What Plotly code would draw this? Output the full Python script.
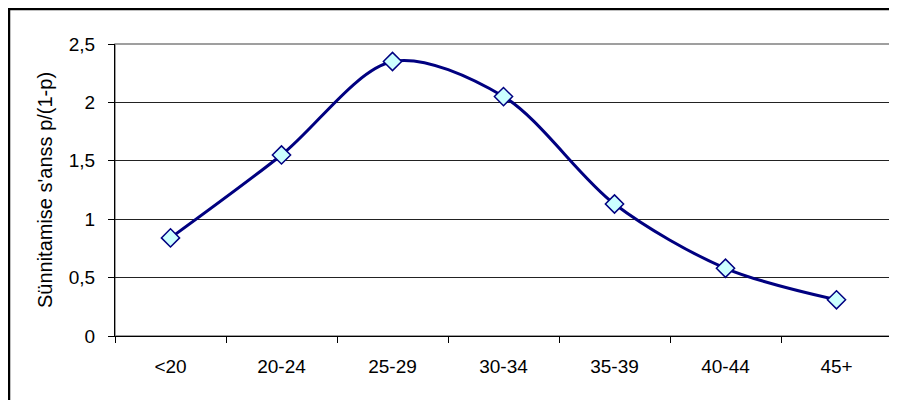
import plotly.graph_objects as go

categories = ["<20", "20-24", "25-29", "30-34", "35-39", "40-44", "45+"]
values = [0.84, 1.55, 2.35, 2.05, 1.13, 0.58, 0.31]
y_ticks = [0, 0.5, 1, 1.5, 2, 2.5]
y_title = "Sünnitamise s'anss p/(1-p)"

fig = go.Figure()
fig.add_trace(go.Scatter(
    x=categories, y=values, mode="lines+markers",
    line=dict(color="#000080", width=3, shape="spline", smoothing=0.9),
    marker=dict(symbol="diamond", size=14, color="#CCFFFF",
                line=dict(color="#000080", width=1.5)),
    showlegend=False, hoverinfo="skip",
))

# page body has an 8px margin, so the figure is sized to fit the window
L, R, T, B = 107, 5, 36, 64
W, H = 889, 392
pw, ph = W - L - R, H - T - B

fig.update_layout(
    width=W, height=H,
    margin=dict(l=L, r=R, t=T, b=B, pad=0),
    paper_bgcolor="white", plot_bgcolor="white",
    separators=", ",
    font=dict(family="Liberation Sans, Arial, sans-serif", size=19, color="black"),
    xaxis=dict(
        type="category", range=[-0.5, 6.5], tickson="boundaries",
        ticks="outside", ticklen=6, tickcolor="black", tickwidth=1,
        showline=True, linecolor="black", linewidth=1,
        showgrid=False, zeroline=False, ticklabelstandoff=13,
        fixedrange=True,
    ),
    yaxis=dict(
        range=[0, 2.5], tickvals=y_ticks, tickformat=".1~f",
        ticks="outside", ticklen=6, tickcolor="black", tickwidth=1,
        showline=True, linecolor="black", linewidth=1,
        showgrid=True, gridcolor="#222222", gridwidth=1,
        zeroline=False, ticklabelstandoff=9,
        title=dict(text=y_title, standoff=10, font=dict(size=20)),
        fixedrange=True,
    ),
    shapes=[
        dict(type="rect", xref="paper", yref="paper", x0=0, x1=1, y0=0, y1=1,
             line=dict(color="#808080", width=1.5), layer="below"),
        dict(type="rect", xref="paper", yref="paper",
             x0=(1 - L) / pw, x1=(W + 20 - L) / pw,
             y0=-(B + 20) / ph, y1=1 + (T - 1) / ph,
             line=dict(color="black", width=2.5), layer="above"),
    ],
)

fig.write_html("out.html")
